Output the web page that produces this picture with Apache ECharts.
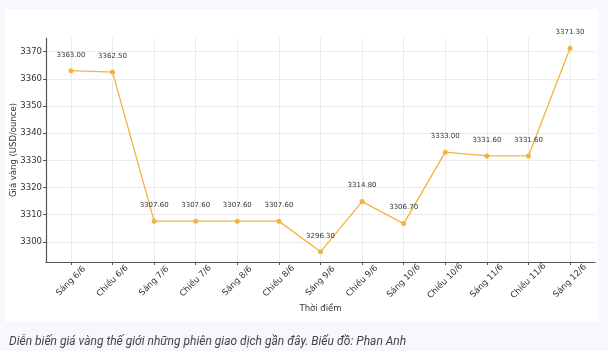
<!DOCTYPE html>
<html>
<head>
<meta charset="utf-8">
<script src="https://cdn.jsdelivr.net/npm/echarts@6/dist/echarts.min.js"></script>
<style>
  html, body { margin: 0; padding: 0; background: #f7f8fb; }
  #chart { width: 608px; height: 351px; }
</style>
</head>
<body>
<div id="chart"></div>
<script>
const categories = ['Sáng 6/6', 'Chiều 6/6', 'Sáng 7/6', 'Chiều 7/6', 'Sáng 8/6', 'Chiều 8/6',
  'Sáng 9/6', 'Chiều 9/6', 'Sáng 10/6', 'Chiều 10/6', 'Sáng 11/6', 'Chiều 11/6', 'Sáng 12/6'];
const prices = [3363.00, 3362.50, 3307.60, 3307.60, 3307.60, 3307.60,
  3296.30, 3314.80, 3306.70, 3333.00, 3331.60, 3331.60, 3371.30];
const yTicks = [3300, 3310, 3320, 3330, 3340, 3350, 3360, 3370];
const xTicks = categories.map((c, i) => i);

const chart = echarts.init(document.getElementById('chart'));
const font = 'DejaVu Sans';

const option = {
  backgroundColor: '#f7f8fb',
  animation: false,
  title: {
    text: 'Diễn biến giá vàng thế giới những phiên giao dịch gần đây. Biểu đồ: Phan Anh',
    left: 4,
    top: 331,
    textStyle: {
      fontFamily: 'Roboto',
      fontStyle: 'italic',
      fontWeight: 'normal',
      fontSize: 12,
      color: '#444'
    }
  },
  graphic: [{
    type: 'rect',
    z: -10,
    shape: { x: 5, y: 9, width: 593, height: 313 },
    style: { fill: '#ffffff' }
  }],
  grid: { left: 46, right: 13, top: 38, bottom: 89, containLabel: false, outerBoundsMode: 'none' },
  xAxis: {
    type: 'value',
    min: -0.6,
    max: 12.6,
    name: 'Thời điểm',
    nameLocation: 'middle',
    nameGap: 42,
    nameMoveOverlap: false,
    nameTextStyle: { fontFamily: font, fontSize: 8.5, color: '#333' },
    axisLine: { show: true, onZero: false, lineStyle: { color: '#555', width: 1.2 } },
    axisTick: { show: true, length: 3, customValues: xTicks, lineStyle: { color: '#555' } },
    axisLabel: {
      customValues: xTicks,
      formatter: (v) => categories[Math.round(v)],
      rotate: 45,
      align: 'center',
      verticalAlign: 'middle',
      margin: 19,
      fontFamily: font,
      fontSize: 8.5,
      color: '#333'
    },
    splitLine: { show: true, customValues: xTicks, lineStyle: { color: '#e6e6e6', width: 0.8 } }
  },
  yAxis: {
    type: 'value',
    min: 3292.55,
    max: 3375.05,
    name: 'Giá vàng (USD/ounce)',
    nameLocation: 'middle',
    nameGap: 28,
    nameMoveOverlap: false,
    nameTextStyle: { fontFamily: font, fontSize: 8.5, color: '#333' },
    axisLine: { show: true, onZero: false, lineStyle: { color: '#555', width: 1.2 } },
    axisTick: { show: true, length: 3, customValues: yTicks, lineStyle: { color: '#555' } },
    axisLabel: {
      customValues: yTicks,
      formatter: (v) => String(v),
      margin: 4,
      fontFamily: font,
      fontSize: 8.5,
      color: '#333'
    },
    splitLine: { show: true, customValues: yTicks, lineStyle: { color: '#e6e6e6', width: 0.8 } }
  },
  series: [{
    type: 'line',
    data: prices.map((v, i) => [i, v]),
    symbol: 'circle',
    symbolSize: 5,
    color: '#f4b33c',
    lineStyle: { width: 1.3, color: '#f4b33c' },
    itemStyle: { color: '#f4b33c' },
    label: {
      show: true,
      position: 'top',
      distance: 10,
      formatter: (p) => p.value[1].toFixed(2),
      fontFamily: font,
      fontSize: 7,
      color: '#333'
    }
  }]
};

chart.setOption(option);
</script>
</body>
</html>
